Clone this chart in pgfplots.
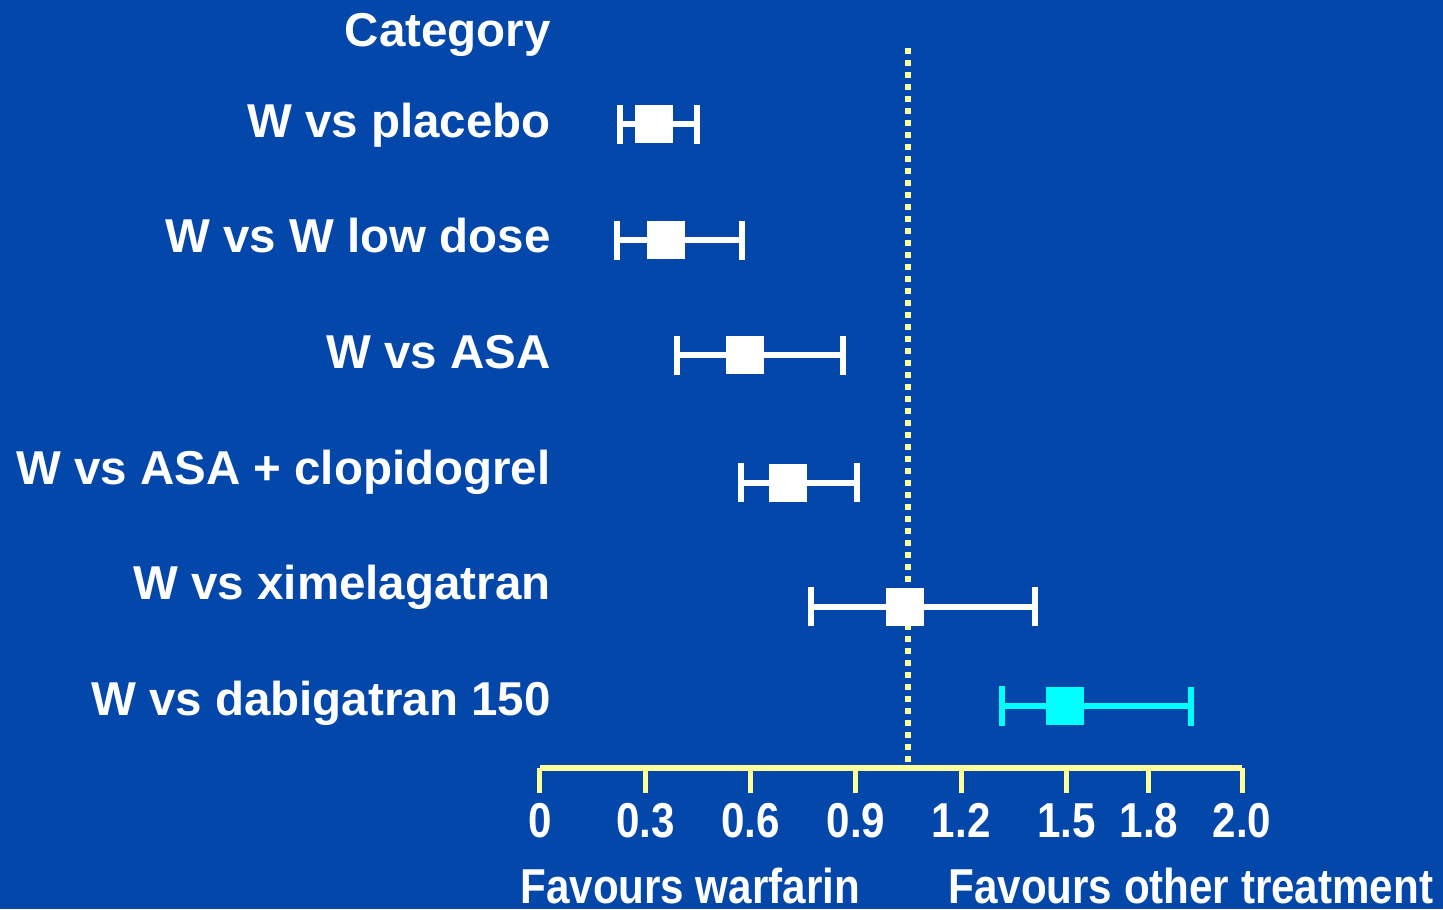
\documentclass[border=0pt]{standalone}
\usepackage{pgfplots}
\pgfplotsset{compat=1.18}
\usepackage{fontspec}
\setmainfont{Liberation Sans}
\usetikzlibrary{backgrounds}

\definecolor{slideblue}{RGB}{3,71,171}
\definecolor{rulerYellow}{RGB}{255,255,153}
\definecolor{dabicyan}{RGB}{0,255,255}

% condensed bold text used on the ruler and its captions
\newcommand{\narrow}[1]{\scalebox{0.86}[1]{#1}}

\begin{document}
\begin{tikzpicture}
\begin{axis}[
  scale only axis,
  width=351pt, height=384pt,
  xmin=0, xmax=2, ymin=141, ymax=909,
  enlargelimits=false, clip=false,
  axis x line*=bottom, axis y line=none,
  x axis line style={draw=rulerYellow, line width=3pt},
  xtick={0,0.3,0.6,0.9,1.2,1.5,1.735,2.0},
  xticklabels={\narrow{0},\narrow{0.3},\narrow{0.6},\narrow{0.9},\narrow{1.2},\narrow{1.5},\narrow{1.8},\narrow{2.0}},
  xtick align=outside,
  major tick length=12.5pt,
  xtick style={draw=rulerYellow, line width=2.5pt},
  xticklabel style={font=\fontsize{24.5}{26}\selectfont\bfseries, text=white,
    anchor=north, inner sep=0pt, yshift=-5pt},
  ytick=\empty,
]
% page corners
\coordinate (pgTL) at (axis cs:-1.53846,909);
\coordinate (pgBR) at (axis cs:2.57265,0);

% line of no difference
\addplot[draw=rulerYellow, line width=3pt, dash pattern=on 3pt off 3pt]
  coordinates {(1.048,147) (1.048,861)};

% warfarin comparisons: estimate with lower/upper whiskers
\addplot[only marks, mark=square*, mark size=9.25pt,
  mark options={draw=white, fill=white, line width=0.5pt},
  error bars/.cd, x dir=both, x explicit,
  error bar style={draw=white, line width=3pt},
  error mark=|,
  error mark options={draw=white, line width=3pt, mark size=9.75pt}]
  coordinates {
    (0.325,784.5) += (0.122,0) -= (0.097,0)
    (0.360,668.5) += (0.215,0) -= (0.141,0)
    (0.583,553.5) += (0.281,0) -= (0.193,0)
    (0.707,426.0) += (0.196,0) -= (0.134,0)
    (1.040,302.0) += (0.370,0) -= (0.269,0)
  };

% dabigatran 150
\addplot[only marks, mark=square*, mark size=9.25pt,
  mark options={draw=dabicyan, fill=dabicyan, line width=0.5pt},
  error bars/.cd, x dir=both, x explicit,
  error bar style={draw=dabicyan, line width=3pt},
  error mark=|,
  error mark options={draw=dabicyan, line width=3pt, mark size=9.75pt}]
  coordinates {
    (1.496,203.0) += (0.360,0) -= (0.180,0)
  };

% category labels
\begin{scope}[every node/.style={anchor=base east, text=white,
    font=\fontsize{23.75}{28}\selectfont\bfseries, inner sep=0pt}]
\node at (axis cs:0.0314,862) {Category};
\node at (axis cs:0.0314,771) {W vs placebo};
\node at (axis cs:0.0314,656) {W vs W low dose};
\node at (axis cs:0.0314,540) {W vs ASA};
\node at (axis cs:0.0314,424) {W vs ASA + clopidogrel};
\node at (axis cs:0.0314,309) {W vs ximelagatran};
\node at (axis cs:0.0314,194) {W vs dabigatran 150};
\end{scope}

% direction captions
\begin{scope}[every node/.style={anchor=base west, text=white,
    font=\fontsize{24.5}{26}\selectfont\bfseries, inner sep=0pt}]
\node at (axis cs:-0.05698,6) {\narrow{Favours warfarin}};
\node at (axis cs:1.1624,6) {\narrow{Favours other treatment}};
\end{scope}
\end{axis}

\begin{pgfonlayer}{background}
\fill[slideblue] (pgTL) rectangle (pgBR);
\end{pgfonlayer}
\pgfresetboundingbox
\path[use as bounding box] (pgTL) rectangle (pgBR);
\end{tikzpicture}
\end{document}
